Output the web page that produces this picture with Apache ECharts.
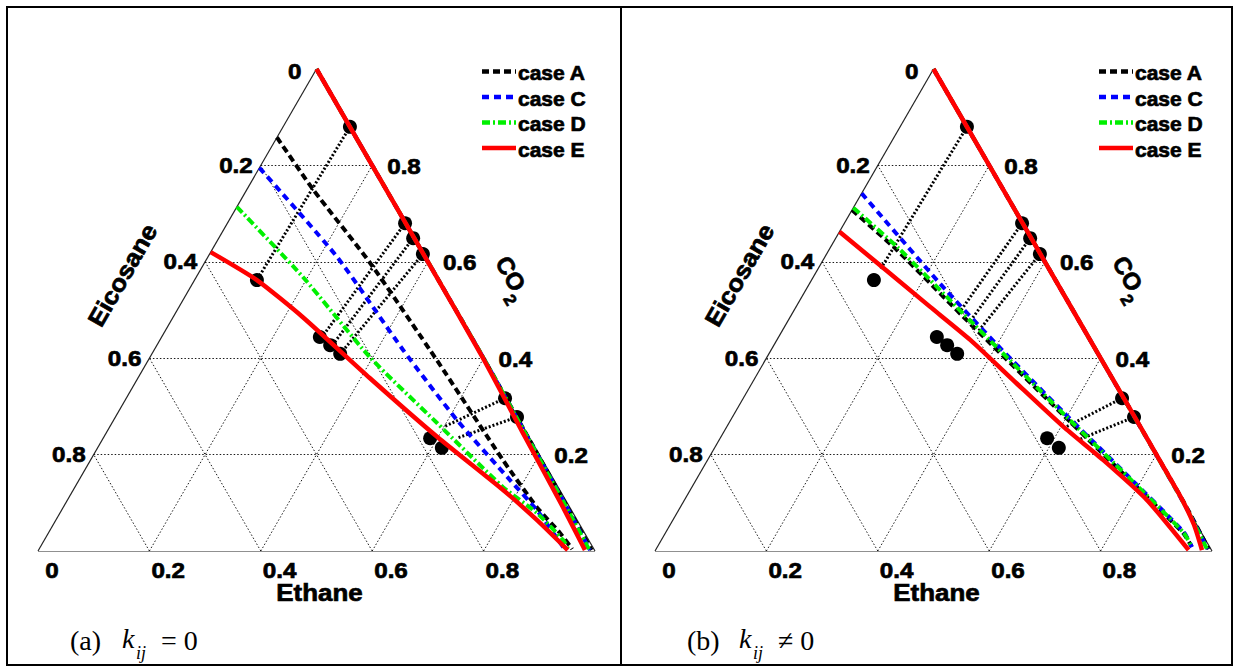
<!DOCTYPE html>
<html><head><meta charset="utf-8">
<script src="https://cdn.jsdelivr.net/npm/echarts/dist/echarts.min.js"></script>
<style>html,body{margin:0;padding:0;background:#fff}#c{width:1239px;height:672px}</style>
</head><body><div id="c"></div>
<script>
// ---------- DATA: mole fractions as [x_Ethane, x_CO2]; x_Eicosane = 1 - both ----------
const tickValues = [0, 0.2, 0.4, 0.6, 0.8];
const tickLabels = ['0', '0.2', '0.4', '0.6', '0.8'];
const caseNames = ['case A', 'case C', 'case D', 'case E'];
const panelCaptions = ['(a)', '(b)'];
const captionRel = ['= 0', '\u2260 0'];

// experimental points (same in both panels)
const expVapour = [[0.120,0.880],[0.319,0.680],[0.349,0.649],[0.383,0.616],[0.680,0.317],[0.721,0.278]];
const expLiquid = [[0.112,0.562],[0.284,0.444],[0.311,0.427],[0.338,0.409],[0.587,0.234],[0.618,0.214]];

// panel (a) k_ij = 0
const a_caseA_liq = [[0,0.858],[0.120,0.749],[0.297,0.598],[0.518,0.396],[0.740,0.189],[0.850,0.091],[0.919,0.037],[0.957,0.004]];
const a_caseC_liq = [[0,0.795],[0.232,0.610],[0.447,0.417],[0.616,0.272],[0.774,0.147],[0.853,0.085],[0.939,0.008],[0.948,0.000]];
const a_caseD_liq = [[0,0.714],[0.192,0.568],[0.395,0.402],[0.583,0.266],[0.768,0.133],[0.856,0.079],[0.931,0.023],[0.952,0.002]];
const a_caseE_liq = [[0,0.620],[0.112,0.562],[0.233,0.485],[0.416,0.359],[0.598,0.237],[0.771,0.127],[0.864,0.064],[0.950,0.002]];
const a_caseA_vap = [[0,1],[0.3,0.7],[0.6,0.4],[0.750,0.248],[0.900,0.096],[0.993,0.002]];
const a_caseC_vap = [[0,1],[0.3,0.7],[0.6,0.4],[0.750,0.247],[0.900,0.095],[0.990,0.002]];
const a_caseD_vap = [[0,1],[0.3,0.7],[0.6,0.4],[0.749,0.248],[0.899,0.095],[0.988,0.003]];
const a_caseE_vap = [[0,1],[0.191,0.809],[0.4,0.6],[0.598,0.401],[0.748,0.245],[0.897,0.091],[0.981,0.002]];
const a_tieEnd = [[0.112,0.562],[0.289,0.452],[0.316,0.434],[0.339,0.413],[0.599,0.257],[0.635,0.234]];

// panel (b) k_ij != 0
const b_caseA_liq = [[0,0.7075],[0.122,0.6245],[0.3105,0.486],[0.592,0.282],[0.779,0.147],[0.930,0.037],[0.959,0.009]];
const b_caseC_liq = [[0,0.742],[0.234,0.555],[0.400,0.428],[0.592,0.286],[0.779,0.150],[0.930,0.039],[0.960,0.008]];
const b_caseD_liq = [[0,0.712],[0.122,0.629],[0.3105,0.490],[0.592,0.284],[0.779,0.149],[0.930,0.038],[0.959,0.009]];
const b_caseE_liq = [[0,0.6625],[0.240,0.507],[0.347,0.438],[0.475,0.348],[0.604,0.258],[0.710,0.189],[0.830,0.106],[0.957,0.002]];
const b_caseA_vap = [[0,1],[0.6,0.4],[0.9,0.1],[0.992,0.004]];
const b_caseC_vap = [[0,1],[0.6,0.4],[0.9,0.099],[0.990,0.004]];
const b_caseD_vap = [[0,1],[0.6,0.4],[0.899,0.1],[0.989,0.004]];
const b_caseE_vap = [[0,1],[0.4,0.6],[0.6,0.4],[0.880,0.120],[0.940,0.055],[0.981,0.002]];
const b_tieEnd = [[0.1125,0.583],[0.2993,0.4965],[0.3275,0.476],[0.3525,0.455],[0.610,0.258],[0.644,0.230]];

// ---------- geometry ----------
const SQ = Math.sqrt(3) / 2;
const toXY = p => [p[0] + p[1] / 2, p[1] * SQ];
const FONT = '"Liberation Sans", Arial, sans-serif';
const SERIF = '"Liberation Serif", "Times New Roman", serif';

const styles = {
  'case A': {color: '#000000', width: 4, type: [7, 4]},
  'case C': {color: '#0000ff', width: 4, type: [7, 5]},
  'case D': {color: '#00f000', width: 4, type: [8, 3, 2, 3]},
  'case E': {color: '#ff0000', width: 4.5, type: 'solid'}
};

const panels = [
  {left: 38, liq: [a_caseA_liq, a_caseC_liq, a_caseD_liq, a_caseE_liq], vap: [a_caseA_vap, a_caseC_vap, a_caseD_vap, a_caseE_vap], tie: a_tieEnd},
  {left: 655, liq: [b_caseA_liq, b_caseC_liq, b_caseD_liq, b_caseE_liq], vap: [b_caseA_vap, b_caseC_vap, b_caseD_vap, b_caseE_vap], tie: b_tieEnd}
];

const grids = [], xAxes = [], yAxes = [], series = [];
panels.forEach((pn, i) => {
  grids.push({left: pn.left, top: 69, width: 557, height: 482});
  xAxes.push({type: 'value', gridIndex: i, min: 0, max: 1, show: false});
  yAxes.push({type: 'value', gridIndex: i, min: 0, max: SQ, show: false});
  // dotted grid
  const gl = [];
  tickValues.filter(v => v > 0).forEach(v => {
    gl.push({coords: [toXY([0, v]), toXY([1 - v, v])]});
    gl.push({coords: [toXY([v, 0]), toXY([v, 1 - v])]});
    gl.push({coords: [toXY([1 - v, 0]), toXY([0, 1 - v])]});
  });
  series.push({type: 'lines', coordinateSystem: 'cartesian2d', xAxisIndex: i, yAxisIndex: i, silent: true, z: 1,
    data: gl, lineStyle: {color: '#000', width: 1, type: [1.5, 2], opacity: 0.9}});
  // edges
  series.push({type: 'lines', coordinateSystem: 'cartesian2d', xAxisIndex: i, yAxisIndex: i, silent: true, z: 2,
    data: [{coords: [toXY([0, 0]), toXY([1, 0])]}, {coords: [toXY([0, 0]), toXY([0, 1])]}, {coords: [toXY([1, 0]), toXY([0, 1])]}],
    lineStyle: {color: '#222', width: 1.2, type: 'solid', opacity: 1}});
  // tie lines
  series.push({type: 'lines', coordinateSystem: 'cartesian2d', xAxisIndex: i, yAxisIndex: i, silent: true, z: 3,
    data: expVapour.map((v, k) => ({coords: [toXY(v), toXY(pn.tie[k])]})),
    lineStyle: {color: '#000', width: 3, type: [2, 2], opacity: 1}});
  // experimental points
  series.push({type: 'scatter', xAxisIndex: i, yAxisIndex: i, z: 4, clip: false, symbolSize: 14, silent: true,
    itemStyle: {color: '#000', opacity: 1}, data: expVapour.concat(expLiquid).map(toXY)});
  // model curves
  caseNames.forEach((nm, c) => {
    [pn.liq[c], pn.vap[c]].forEach(arr => {
      series.push({type: 'line', name: nm, xAxisIndex: i, yAxisIndex: i, z: 5 + c, clip: false,
        showSymbol: false, symbol: 'none', smooth: 0.2, silent: true,
        lineStyle: {color: styles[nm].color, width: styles[nm].width, type: styles[nm].type, opacity: 1},
        data: arr.map(toXY)});
    });
  });
});

const chart = echarts.init(document.getElementById('c'), null, {renderer: 'svg'});
chart.setOption({animation: false, backgroundColor: '#fff', grid: grids, xAxis: xAxes, yAxis: yAxes, series: series});

// ---------- text & frame ----------
const P = (i, eth, co2) => chart.convertToPixel({gridIndex: i}, toXY([eth, co2]));
function T(x, y, text, o) {
  o = o || {};
  const bold = (o.weight || 'bold') === 'bold';
  return {type: 'text', x: x, y: y, rotation: o.rot || 0, scaleX: o.sx || 1, silent: true, z: 20,
    style: {text: text, x: 0, y: 0, fill: '#000', fontFamily: o.family || FONT, fontSize: o.size || 22,
      fontWeight: o.weight || 'bold', fontStyle: o.style || 'normal',
      stroke: bold ? '#000' : null, lineWidth: bold ? 0.7 : 0,
      textAlign: o.align || 'center', align: o.align || 'center',
      textVerticalAlign: 'middle', verticalAlign: 'middle'}};
}
const g = [];
g.push({type: 'rect', shape: {x: 7, y: 7, width: 1225, height: 658}, style: {fill: 'none', stroke: '#000', lineWidth: 2}, silent: true});
g.push({type: 'line', shape: {x1: 621, y1: 7, x2: 621, y2: 665}, style: {stroke: '#000', lineWidth: 2}, silent: true});

panels.forEach((pn, i) => {
  // Eicosane ticks (left edge)
  tickValues.forEach((v, k) => {
    const p = P(i, 0, 1 - v);
    g.push(T(p[0] - (v === 0 ? 15 : 8), p[1] + (v === 0 ? 2 : 0), tickLabels[k], {align: 'right', sx: 1.1}));
  });
  // CO2 ticks (right edge)
  tickValues.forEach((v, k) => {
    if (v === 0) return;
    const p = P(i, 1 - v, v);
    g.push(T(p[0] + 15, p[1] + 1, tickLabels[k], {align: 'left', sx: 1.1}));
  });
  // Ethane ticks (bottom)
  tickValues.forEach((v, k) => {
    const p = P(i, v, 0);
    if (v === 0) g.push(T(p[0] + 14, p[1] + 19, tickLabels[k], {align: 'center', sx: 1.1}));
    else g.push(T(p[0] + 2, p[1] + 19, tickLabels[k], {align: 'left', sx: 1.1}));
  });
  // axis titles
  const bm = P(i, 0.5, 0), lm = P(i, 0, 0.5), rm = P(i, 0.5, 0.5);
  g.push(T(bm[0] + 3, bm[1] + 41, 'Ethane', {size: 24, sx: 1.08}));
  g.push(T(lm[0] - 55, lm[1] - 35, 'Eicosane', {size: 24, sx: 1.08, rot: Math.PI / 3}));
  g.push({type: 'group', x: rm[0] + 57, y: rm[1] - 33, rotation: -Math.PI / 3, silent: true, children: [
    T(-22, 0, 'CO', {size: 24, align: 'left'}),
    T(14, 14, '2', {size: 17, align: 'left'})
  ]});
  // legend
  const lx = pn.left + 444;
  caseNames.forEach((nm, c) => {
    const y = 71.5 + c * 25.5;
    const st = styles[nm];
    g.push({type: 'line', silent: true, z: 20, shape: {x1: lx, y1: y, x2: lx + 34, y2: y},
      style: {stroke: st.color, lineWidth: 4.5, lineDash: st.type === 'solid' ? null : st.type}});
    g.push(T(lx + 36, y + 1, nm, {size: 21, align: 'left'}));
  });
  // caption
  const cx = pn.left + 32;
  g.push(T(cx, 640, panelCaptions[i], {family: SERIF, size: 28, weight: 'normal', align: 'left'}));
  g.push(T(cx + 52, 638, 'k', {family: SERIF, size: 28, weight: 'normal', style: 'italic', align: 'left'}));
  g.push(T(cx + 66, 653, 'ij', {family: SERIF, size: 18, weight: 'normal', style: 'italic', align: 'left'}));
  g.push(T(cx + 91, 640, captionRel[i], {family: SERIF, size: 28, weight: 'normal', align: 'left'}));
});
chart.setOption({graphic: g});
</script></body></html>
